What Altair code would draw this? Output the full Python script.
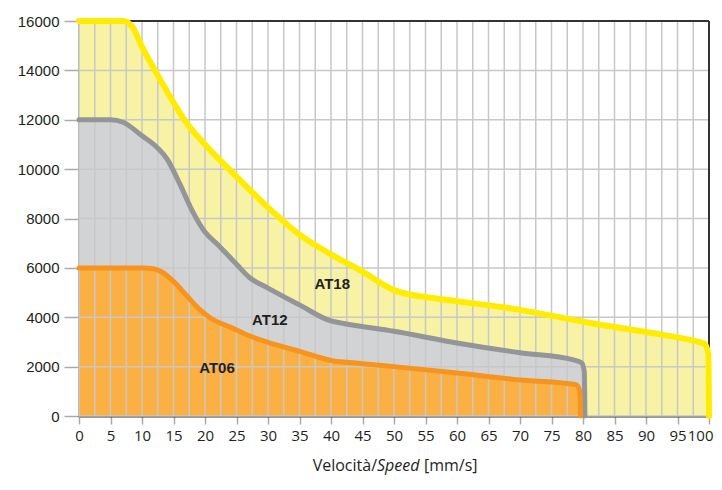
import altair as alt
import pandas as pd

# --- data ---
AT18_X = [0, 7, 8.5, 10, 12.5, 15, 17, 20, 25, 30, 35, 40, 45, 50, 52.5, 55, 60, 70, 80, 90, 97.5, 99.3, 99.9, 100]
AT18_Y = [16000, 16000, 15750, 14950, 13800, 12700, 11900, 11000, 9700, 8450, 7350, 6550, 5850, 5100, 4920, 4820, 4650, 4300, 3820, 3400, 3050, 2920, 2500, 0]

AT12_X = [0, 5, 7, 10, 12.5, 14, 16, 18, 20, 22, 25, 27, 30, 35, 40, 42, 50, 60, 70, 78.5, 79.8, 80.2, 80.3]
AT12_Y = [12000, 12000, 11900, 11350, 10850, 10400, 9400, 8300, 7450, 6950, 6150, 5620, 5180, 4500, 3850, 3750, 3430, 2960, 2560, 2270, 2150, 1800, 0]

AT06_X = [0, 5, 10, 11.5, 13, 15, 17, 19, 21, 24, 27, 30, 35, 40, 45, 50, 60, 70, 77.5, 78.9, 79.5, 79.6]
AT06_Y = [6000, 6000, 6000, 5980, 5850, 5450, 4900, 4350, 3950, 3600, 3250, 2980, 2620, 2250, 2120, 2000, 1740, 1460, 1320, 1270, 1000, 0]

LABELS = ["AT18", "AT12", "AT06"]
LABEL_X = [40.2, 30.3, 21.9]
LABEL_Y = [5350, 3900, 1950]

X_TICKS = [0, 5, 10, 15, 20, 25, 30, 35, 40, 45, 50, 55, 60, 65, 70, 75, 80, 85, 90, 95, 100]
X_GRID = [0, 2.5, 5, 7.5, 10, 12.5, 15, 17.5, 20, 22.5, 25, 27.5, 30, 32.5, 35, 37.5, 40, 42.5,
          45, 47.5, 50, 52.5, 55, 57.5, 60, 62.5, 65, 67.5, 70, 72.5, 75, 77.5, 80, 82.5, 85, 87.5,
          90, 92.5, 95, 97.5, 100]
Y_TICKS = [0, 2000, 4000, 6000, 8000, 10000, 12000, 14000, 16000]
X_MAX = [100]
Y_MAX = [16000]

XS = alt.Scale(domain=[0, 100], nice=False, zero=False)
YS = alt.Scale(domain=[0, 16000], nice=False)

X_AXIS = alt.Axis(
    values=X_TICKS, title=None, grid=False, domainColor="#333333", domainWidth=2,
    tickColor="#aaaaaa", tickSize=8, tickWidth=1.5, labelPadding=4,
    labelFont="Open Sans", labelFontSize=15, labelColor="#231f20", labelFlush=False,
    labelAlign=alt.ExprRef(expr="datum.value === 100 ? 'right' : 'center'"),
    labelOffset=alt.ExprRef(expr="datum.value === 100 ? 4 : 0"))
Y_AXIS = alt.Axis(
    values=Y_TICKS, format="d", title=None, grid=False, domainColor="#333333", domainWidth=2,
    tickColor="#aaaaaa", tickSize=15, tickWidth=1.5, labelPadding=5,
    labelFont="Liberation Sans", labelFontSize=15, labelColor="#231f20")


def X(field):
    return alt.X(field, type="quantitative", scale=XS, axis=X_AXIS)


def Y(field):
    return alt.Y(field, type="quantitative", scale=YS, axis=Y_AXIS)


def curve(xs, ys):
    return pd.DataFrame({"x": xs, "y": ys})


d18, d12, d06 = curve(AT18_X, AT18_Y), curve(AT12_X, AT12_Y), curve(AT06_X, AT06_Y)


def area(df, fill):
    return alt.Chart(df).mark_area(interpolate="monotone", color=fill).encode(x=X("x"), y=Y("y"))


def line(df, col, w):
    return alt.Chart(df).mark_line(interpolate="monotone", color=col, strokeWidth=w,
                                   strokeCap="round", strokeJoin="round").encode(x=X("x"), y=Y("y"))


vgrid = alt.Chart(pd.DataFrame({"g": X_GRID})).mark_rule(color="#c8c8c8", strokeWidth=1.5).encode(x=X("g"))
hgrid = alt.Chart(pd.DataFrame({"g": Y_TICKS})).mark_rule(color="#c8c8c8", strokeWidth=1.5).encode(y=Y("g"))
top_border = alt.Chart(pd.DataFrame({"g": Y_MAX})).mark_rule(color="#333333", strokeWidth=2).encode(y=Y("g"))
right_border = alt.Chart(pd.DataFrame({"g": X_MAX})).mark_rule(color="#333333", strokeWidth=2).encode(x=X("g"))

labels = alt.Chart(pd.DataFrame({"t": LABELS, "x": LABEL_X, "y": LABEL_Y})).mark_text(
    font="Liberation Sans", fontWeight="bold", fontSize=15, color="#231f20").encode(
    x=X("x"), y=Y("y"), text="t:N")

ty = 445
t1 = alt.Chart(pd.DataFrame({"t": ["Velocità/"]})).mark_text(
    font="Open Sans", fontSize=16, color="#231f20", align="right", baseline="middle").encode(
    x=alt.value(298), y=alt.value(ty), text="t:N")
t2 = alt.Chart(pd.DataFrame({"t": ["Speed"]})).mark_text(
    font="Open Sans", fontSize=16, fontStyle="italic", color="#231f20", align="left", baseline="middle").encode(
    x=alt.value(298), y=alt.value(ty), text="t:N")
t3 = alt.Chart(pd.DataFrame({"t": ["[mm/s]"]})).mark_text(
    font="Open Sans", fontSize=16, color="#231f20", align="left", baseline="middle").encode(
    x=alt.value(345), y=alt.value(ty), text="t:N")

chart = alt.layer(
    area(d18, "#f8f3a4"), area(d12, "#d2d3d5"), area(d06, "#fab042"),
    vgrid, hgrid, top_border, right_border,
    line(d18, "#ffec00", 6), line(d12, "#939598", 5), line(d06, "#f7941d", 5),
    labels, t1, t2, t3,
).properties(
    width=630, height=395,
    padding={"left": 71, "top": 13, "right": 5, "bottom": 60},
    autosize=alt.AutoSizeParams(type="none"),
).configure_view(stroke=None).configure(background="white")

chart.save("out.html", embed_options={"renderer": "svg", "actions": False})
